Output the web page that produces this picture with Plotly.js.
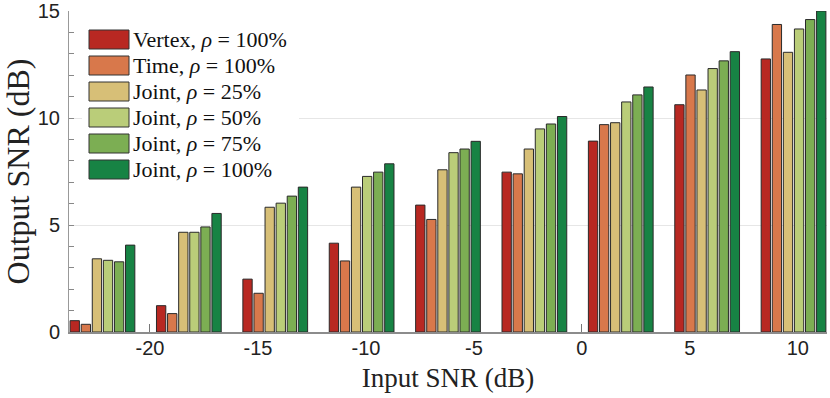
<!DOCTYPE html>
<html>
<head>
<meta charset="utf-8">
<script src="https://cdn.plot.ly/plotly-3.0.1.min.js"></script>
<style>
  body { margin: 0; background: #fff; }
  #chart { width: 830px; height: 398px; }
</style>
</head>
<body>
<div id="chart"></div>
<script>
/****************************************************
 * Data
 ****************************************************/
const inputSNR = [-22.2, -18.2, -14.2, -10.2, -6.2, -2.2, 1.8, 5.8, 9.8];

const vertex100 = [0.53, 1.23, 2.47, 4.15, 5.93, 7.47, 8.92, 10.62, 12.76];
const time100   = [0.36, 0.86, 1.81, 3.32, 5.26, 7.39, 9.69, 12.01, 14.37];
const joint25   = [3.42, 4.66, 5.83, 6.77, 7.58, 8.55, 9.78, 11.31, 13.07];
const joint50   = [3.35, 4.66, 6.02, 7.27, 8.38, 9.49, 10.75, 12.31, 14.16];
const joint75   = [3.28, 4.91, 6.35, 7.47, 8.55, 9.72, 11.08, 12.67, 14.60];
const joint100  = [4.06, 5.54, 6.77, 7.86, 8.91, 10.07, 11.45, 13.10, 15.0];

// x tick labels use a plain hyphen like the original
const xTickVals = [-20, -15, -10, -5, 0, 5, 10];
const xTickText = ["-20", "-15", "-10", "-5", "0", "5", "10"];

const seriesNames = [
  "Vertex, <i>ρ</i> = 100%",
  "Time, <i>ρ</i> = 100%",
  "Joint, <i>ρ</i> = 25%",
  "Joint, <i>ρ</i> = 50%",
  "Joint, <i>ρ</i> = 75%",
  "Joint, <i>ρ</i> = 100%"
];
const seriesColors = ["#b82822", "#d8784b", "#d7bf77", "#bacd79", "#7cae53", "#178344"];
const seriesValues = [vertex100, time100, joint25, joint50, joint75, joint100];

const SERIF = "Liberation Serif";
const SANS = "Liberation Sans";

/****************************************************
 * Bar traces
 ****************************************************/
const traces = seriesValues.map((vals, i) => ({
  type: "bar",
  x: inputSNR,
  y: vals,
  name: seriesNames[i],
  showlegend: false,
  marker: { color: seriesColors[i], line: { color: "#2a2a2a", width: 1 } }
}));

/****************************************************
 * Legend drawn by hand (big swatches like MATLAB)
 ****************************************************/
const shapes = [{
  type: "rect", xref: "paper", yref: "paper",
  xsizemode: "pixel", ysizemode: "pixel", xanchor: 0, yanchor: 1,
  x0: 13, x1: 230, y0: -175, y1: -9,
  fillcolor: "#ffffff", line: { width: 0 }, layer: "above"
}];
const annotations = [];
seriesNames.forEach((name, i) => {
  shapes.push({
    type: "rect", xref: "paper", yref: "paper",
    xsizemode: "pixel", ysizemode: "pixel", xanchor: 0, yanchor: 1,
    x0: 20, x1: 60, y0: -38 - 26 * i, y1: -19 - 26 * i,
    fillcolor: seriesColors[i], line: { color: "#333", width: 1 }, layer: "above"
  });
  annotations.push({
    xref: "paper", yref: "paper", x: 0, y: 1,
    xanchor: "left", yanchor: "middle",
    xshift: 62, yshift: -28.5 - 26 * i,
    text: name, showarrow: false,
    font: { family: SERIF, size: 22, color: "#111" }
  });
});

const layout = {
  width: 830,
  height: 398,
  margin: { l: 69, r: 3, t: 11, b: 66 },
  font: { family: SERIF, color: "#222" },
  paper_bgcolor: "#fff",
  plot_bgcolor: "#fff",
  barmode: "group",
  bargap: 0.23,
  bargroupgap: 0.16,
  xaxis: {
    range: [-23.75, 11.35],
    tickvals: xTickVals,
    ticktext: xTickText,
    ticks: "inside",
    ticklen: 8,
    tickcolor: "#777",
    showline: true,
    linecolor: "#8c8c8c",
    linewidth: 2,
    showgrid: false,
    zeroline: false,
    layer: "below traces",
    ticklabelstandoff: -3,
    tickfont: { family: SANS, size: 20, color: "#222" },
    title: { text: "Input SNR (dB)", font: { family: SERIF, size: 27, color: "#222" }, standoff: 10 }
  },
  yaxis: {
    range: [0, 15],
    dtick: 5,
    ticks: "inside",
    ticklen: 5,
    tickcolor: "#888",
    showline: true,
    linecolor: "#999",
    linewidth: 1,
    gridcolor: "#e6e6e6",
    zeroline: false,
    minor: { dtick: 1, ticks: "inside", ticklen: 5, tickcolor: "#888", showgrid: false },
    ticklabelstandoff: 4,
    tickfont: { family: SANS, size: 20, color: "#222" },
    title: { text: "Output SNR (dB)", font: { family: SERIF, size: 32, color: "#222" }, standoff: 4 }
  },
  shapes: shapes,
  annotations: annotations
};

Plotly.newPlot("chart", traces, layout, { displayModeBar: false, staticPlot: true });
</script>
</body>
</html>
